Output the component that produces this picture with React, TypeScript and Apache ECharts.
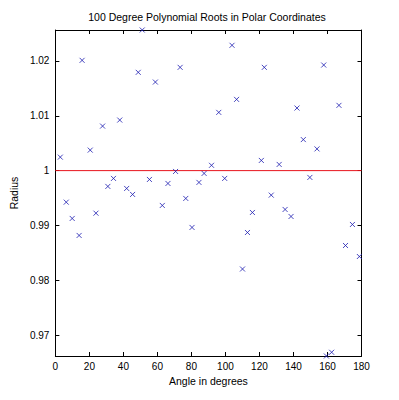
import React, { useEffect, useRef } from "react";
import * as echarts from "echarts";

const titleText = "100 Degree Polynomial Roots in Polar Coordinates";
const xAxisName = "Angle in degrees";
const yAxisName = "Radius";

const angles = [
  2.91, 6.4, 9.9, 13.97, 15.72, 20.5, 23.87, 27.77, 30.86, 34.18,
  37.85, 41.92, 45.41, 48.73, 51.06, 55.31, 58.81, 62.88, 66.2, 70.68,
  73.36, 76.68, 80.35, 84.43, 87.45, 91.82, 96.07, 99.56, 103.87, 106.55,
  110.04, 112.95, 115.86, 121.11, 122.85, 126.93, 131.59, 135.08, 138.57, 142.07,
  145.79, 149.64, 153.83, 157.79, 159.36, 162.45, 166.75, 170.6, 174.67, 178.75,
];

const radii = [
  1.00246, 0.99425, 0.99128, 0.98818, 1.02011, 1.00374, 0.99224, 1.00812, 0.99712, 0.99858,
  1.00922, 0.99675, 0.99566, 1.01792, 1.02564, 0.99839, 1.01615, 0.99365, 0.99766, 0.99985,
  1.01883, 0.99493, 0.98964, 0.99785, 0.99949, 1.00097, 1.01062, 0.99858, 1.02285, 1.01299,
  0.98206, 0.98872, 0.99237, 1.00186, 1.01883, 0.99553, 1.00113, 0.99292, 0.99164, 1.01141,
  1.00566, 0.99876, 1.00396, 1.01925, 0.9662, 0.96688, 1.0119, 0.98635, 0.99018, 0.98434,
];

const xTicks = [0, 20, 40, 60, 80, 100, 120, 140, 160, 180];
const yTicks = [0.97, 0.98, 0.99, 1, 1.01, 1.02];
const refLine = [
  [0, 1],
  [180, 1],
];

const yMin = 0.9662;
const yMax = 1.02564;

export default function App() {
  const ref = useRef<HTMLDivElement>(null);

  useEffect(() => {
    if (!ref.current) return;
    const chart = echarts.init(ref.current, null, { renderer: "svg" });
    const font = "'Liberation Sans', Arial, sans-serif";
    const axisLineStyle = { color: "#000", width: 1 };
    const points = angles.map((a, i) => [a, radii[i]]);

    chart.setOption({
      animation: false,
      backgroundColor: "#fff",
      textStyle: { fontFamily: font },
      grid: { left: 52, right: 37.5, top: 30, bottom: 44, containLabel: false },
      graphic: [
        {
          type: "text",
          x: 207,
          y: 17,
          style: {
            text: titleText,
            font: `10.5px ${font}`,
            fill: "#000",
            textAlign: "center",
            textVerticalAlign: "middle",
          },
        },
      ],
      xAxis: [
        {
          type: "value",
          position: "bottom",
          min: 0,
          max: 180,
          interval: 20,
          name: xAxisName,
          nameLocation: "middle",
          nameGap: 19,
          nameTextStyle: { fontSize: 10.5, color: "#000", fontFamily: font },
          axisLine: { show: true, onZero: false, lineStyle: axisLineStyle },
          axisTick: { show: true, inside: true, length: 4, lineStyle: axisLineStyle },
          axisLabel: { fontSize: 10, color: "#000", margin: 5, fontFamily: font },
          splitLine: { show: false },
        },
        {
          type: "value",
          position: "top",
          min: 0,
          max: 180,
          interval: 20,
          axisLine: { show: true, onZero: false, lineStyle: axisLineStyle },
          axisTick: { show: true, inside: true, length: 4, lineStyle: axisLineStyle },
          axisLabel: { show: false },
          splitLine: { show: false },
        },
      ],
      yAxis: [
        {
          type: "value",
          position: "left",
          min: yMin,
          max: yMax,
          name: yAxisName,
          nameLocation: "middle",
          nameGap: 33,
          nameRotate: 90,
          nameTextStyle: { fontSize: 10.5, color: "#000", fontFamily: font },
          axisLine: { show: true, onZero: false, lineStyle: axisLineStyle },
          axisTick: {
            show: true,
            inside: true,
            length: 4,
            lineStyle: axisLineStyle,
            customValues: yTicks,
          },
          axisLabel: {
            fontSize: 10,
            color: "#000",
            margin: 6,
            fontFamily: font,
            customValues: yTicks,
          },
          splitLine: { show: false },
        },
        {
          type: "value",
          position: "right",
          min: yMin,
          max: yMax,
          axisLine: { show: true, onZero: false, lineStyle: axisLineStyle },
          axisTick: {
            show: true,
            inside: true,
            length: 4,
            lineStyle: axisLineStyle,
            customValues: yTicks,
          },
          axisLabel: { show: false, customValues: yTicks },
          splitLine: { show: false },
        },
      ],
      series: [
        {
          type: "line",
          xAxisIndex: 0,
          yAxisIndex: 0,
          data: refLine,
          symbol: "none",
          lineStyle: { color: "#e8141c", width: 1 },
          silent: true,
          z: 2,
        },
        {
          type: "scatter",
          xAxisIndex: 0,
          yAxisIndex: 0,
          data: points,
          symbol: "path://M0 0L10 10M10 0L0 10",
          symbolSize: 5,
          itemStyle: { color: "none", borderColor: "#1c1cb0", borderWidth: 1 },
          z: 3,
        },
      ],
    });

    return () => chart.dispose();
  }, []);

  return (
    <div
      ref={ref}
      style={{ position: "fixed", left: 0, top: 0, width: 399, height: 400, background: "#fff" }}
    />
  );
}
